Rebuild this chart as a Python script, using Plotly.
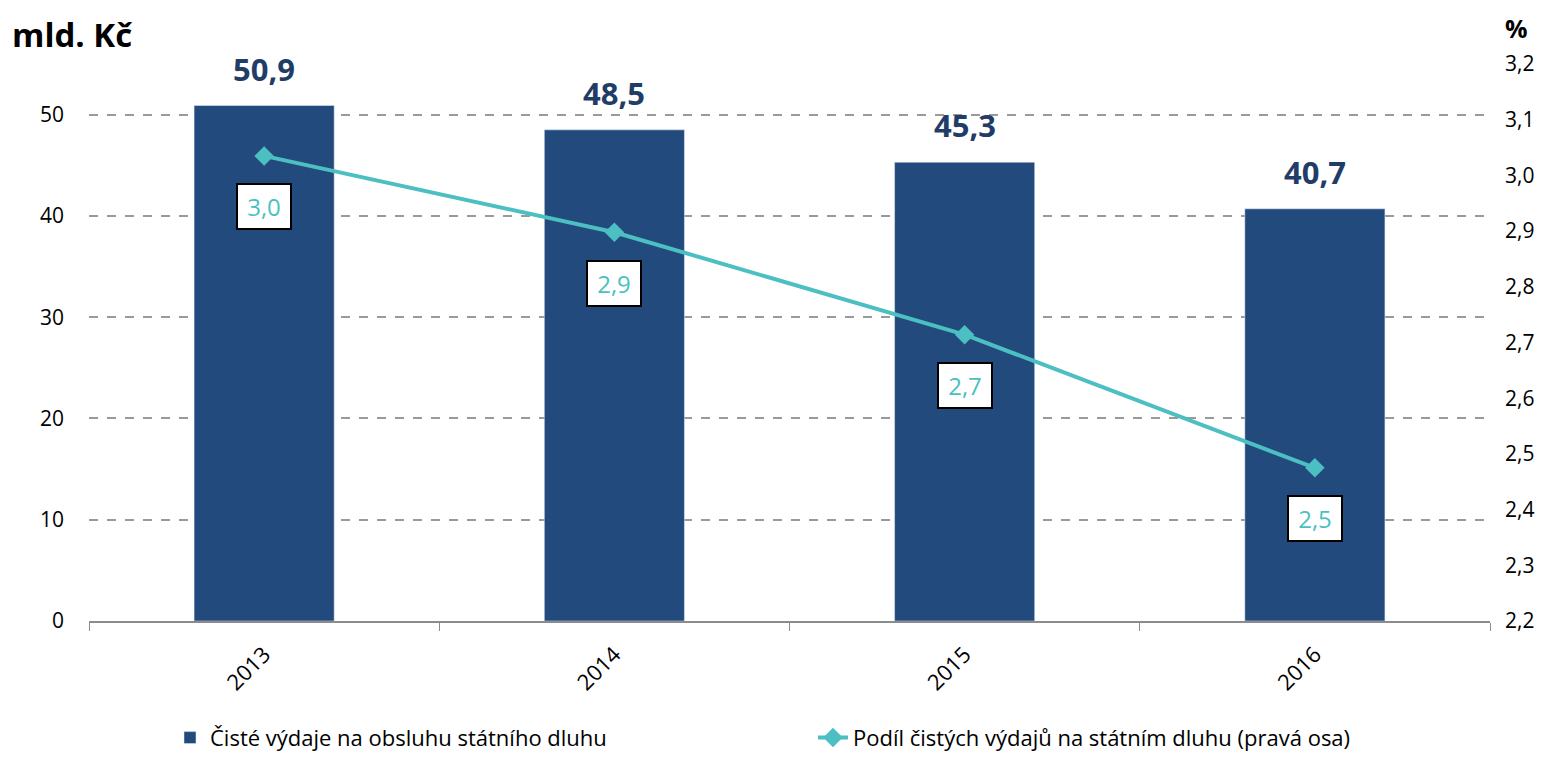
import plotly.graph_objects as go

years = ["2013", "2014", "2015", "2016"]
expenses = [50.9, 48.5, 45.3, 40.7]
share = [3.035, 2.898, 2.714, 2.475]
share_labels = ["3,0", "2,9", "2,7", "2,5"]
bar_labels = ["50,9", "48,5", "45,3", "40,7"]

BAR = "#224A7D"
LINE = "#4BBFC1"
FONT = "'Open Sans', sans-serif"

# page has an 8px body margin; compensate so the plot lands where the reference has it
W, H = 1536, 746
ML, MR, MT, MB = 81, 54, 56, 133
PW = W - ML - MR

fig = go.Figure()
fig.add_trace(go.Bar(
    x=years, y=expenses, name="Čisté výdaje na obsluhu státního dluhu",
    marker=dict(color=BAR), width=0.4,
))
fig.add_trace(go.Scatter(
    x=years, y=share, name="Podíl čistých výdajů na státním dluhu (pravá osa)",
    yaxis="y2", mode="lines+markers",
    line=dict(color=LINE, width=4),
    marker=dict(symbol="diamond", size=15, color=LINE),
))

for i, (v, t) in enumerate(zip(expenses, bar_labels)):
    fig.add_annotation(
        x=i, y=v, xref="x", yref="y", text=f"<b>{t}</b>", showarrow=False,
        yanchor="bottom", yshift=14,
        font=dict(size=31, color="#1F3D66", family=FONT),
    )

for i, (y, t) in enumerate(zip(share, share_labels)):
    fig.add_annotation(
        x=i, y=y, xref="x", yref="y2", text=t, showarrow=False, yshift=-51,
        font=dict(size=24, color=LINE, family=FONT), width=42,
        bgcolor="white", bordercolor="black", borderwidth=2, borderpad=5,
    )

fig.add_annotation(text="<b>mld. Kč</b>", xref="paper", yref="paper",
                   x=(2 - ML) / PW, y=1.0, xanchor="left", yanchor="bottom", yshift=5,
                   showarrow=False, font=dict(size=33, color="black", family=FONT))
fig.add_annotation(text="<b>%</b>", xref="paper", yref="paper",
                   x=(1503 - 8 - ML) / PW, y=1.0, xanchor="left", yanchor="bottom", yshift=17,
                   showarrow=False, font=dict(size=25, color="black", family=FONT))

fig.update_layout(
    width=W, height=H,
    margin=dict(l=ML, r=MR, t=MT, b=MB, autoexpand=False),
    paper_bgcolor="white", plot_bgcolor="white",
    separators=", ",
    font=dict(family=FONT, size=21, color="black"),
    showlegend=True,
    legend=dict(orientation="h", x=(170 - 89) / PW, y=-0.172, xanchor="left", yanchor="top",
                entrywidth=598, font=dict(size=22)),
    bargap=0.6,
    xaxis=dict(type="category", range=[-0.5, 3.5], showline=True, linecolor="#8C8C8C",
               linewidth=2, ticks="outside", tickson="boundaries", ticklen=8,
               tickcolor="#8C8C8C", tickangle=-45, tickfont=dict(size=22),
               ticklabelstandoff=10),
    yaxis=dict(range=[0, 55], tick0=0, dtick=10, showgrid=True, gridcolor="#9A9A9A",
               griddash="dash", gridwidth=1.5, zeroline=False, showline=False,
               ticks="", ticklabelstandoff=24, tickfont=dict(size=21)),
    yaxis2=dict(range=[2.2, 3.2], dtick=0.1, tick0=2.2, overlaying="y", side="right",
                showgrid=False, zeroline=False, showline=False, tickformat=".1f",
                ticklabelstandoff=14, tickfont=dict(size=21)),
)

fig.write_html("out.html")
